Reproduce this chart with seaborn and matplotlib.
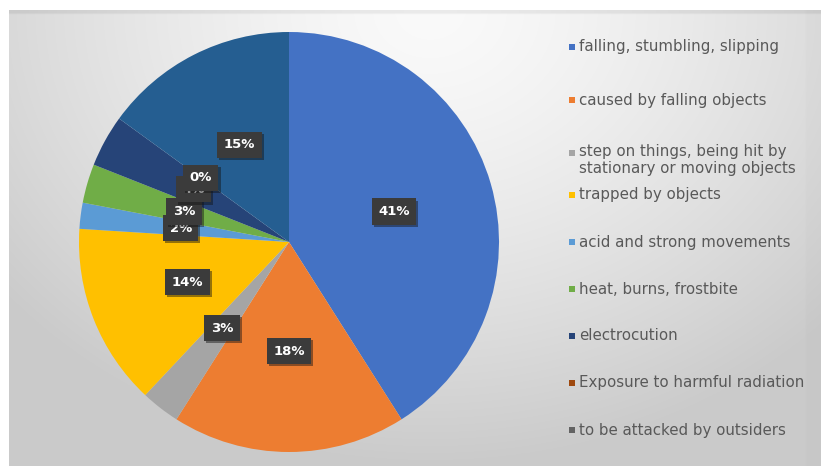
import numpy as np
import matplotlib
matplotlib.use("Agg")
import matplotlib.pyplot as plt
import matplotlib.patheffects as pe
from matplotlib.patches import Rectangle
import seaborn as sns

sns.set_theme(style="white")
plt.rcParams["font.family"] = ["DejaVu Sans"]

# Accident causes and their shares (%)
categories = [
    "falling, stumbling, slipping",
    "caused by falling objects",
    "step on things, being hit by\nstationary or moving objects",
    "trapped by objects",
    "acid and strong movements",
    "heat, burns, frostbite",
    "electrocution",
    "Exposure to harmful radiation",
    "to be attacked by outsiders",
]
shares = [41, 18, 3, 14, 2, 3, 4, 0, 15]

slice_colors = ["#4472C4", "#ED7D31", "#A5A5A5", "#FFC000", "#5B9BD5",
                "#70AD47", "#264478", "#9E480E", "#255E91"]
legend_colors = ["#4472C4", "#ED7D31", "#A5A5A5", "#FFC000", "#5B9BD5",
                 "#70AD47", "#264478", "#9E480E", "#636363"]

W, H = 821, 466
fig = plt.figure(figsize=(W / 100, H / 100), dpi=100)
fig.patch.set_facecolor("white")

# Chart-area backdrop: soft grey gradient, brightest near the top centre
bg = fig.add_axes([9 / W, 0, 1 - 9 / W, (H - 10) / H])
xs = np.linspace(9, W, 400)
ys = np.linspace(10, H, 240)
gx, gy = np.meshgrid(xs, ys)
d = np.sqrt(((gx - 430) / 520) ** 2 + ((gy - 10) / 430) ** 2)
val = (250 - 44 * np.clip(d, 0, 1.05) ** 1.4) / 255
val[:, -8:] -= 0.012
val[:2, :] -= 0.06
bg.imshow(np.dstack([val, val, val]), aspect="auto", extent=(0, 1, 0, 1),
          origin="upper", interpolation="bilinear")
bg.axis("off")

# Pie
cx, cy, r = 289, 242, 210
ax = fig.add_axes([(cx - r) / W, (H - cy - r) / H, 2 * r / W, 2 * r / H])
wedges, _ = ax.pie(shares, colors=slice_colors, startangle=90,
                   counterclock=False, radius=1.0,
                   wedgeprops=dict(linewidth=0))
ax.set_xlim(-1, 1)
ax.set_ylim(-1, 1)
ax.set_aspect("equal")
ax.axis("off")

# Value labels in dark boxes
for w, v in zip(wedges, shares):
    ang = np.deg2rad((w.theta1 + w.theta2) / 2)
    x, y = 0.52 * np.cos(ang), 0.52 * np.sin(ang)
    t = ax.text(x, y, f"{v}%", ha="center", va="center", color="white",
                fontsize=9.5, fontweight="bold",
                bbox=dict(boxstyle="square,pad=0.5", fc="#3b3b3b", ec="none"))
    t.get_bbox_patch().set_path_effects(
        [pe.SimplePatchShadow(offset=(1.5, -1.5), alpha=0.45), pe.Normal()])

# Legend, laid out as a column of entries
entry_y = [47, 100, 153, 195, 242, 289, 336, 383, 430]
for lab, col, yy in zip(categories, legend_colors, entry_y):
    fig.patches.append(Rectangle((569 / W, (H - yy - 3) / H), 6 / W, 6 / H,
                                 transform=fig.transFigure, fc=col, ec="none"))
    if "\n" in lab:
        fig.text(579 / W, (H - yy + 9) / H, lab, ha="left", va="top",
                 fontsize=10.8, color="#595959", linespacing=1.15)
    else:
        fig.text(579 / W, (H - yy) / H, lab, ha="left", va="center",
                 fontsize=10.8, color="#595959")

fig.savefig("out.png", dpi=100)
